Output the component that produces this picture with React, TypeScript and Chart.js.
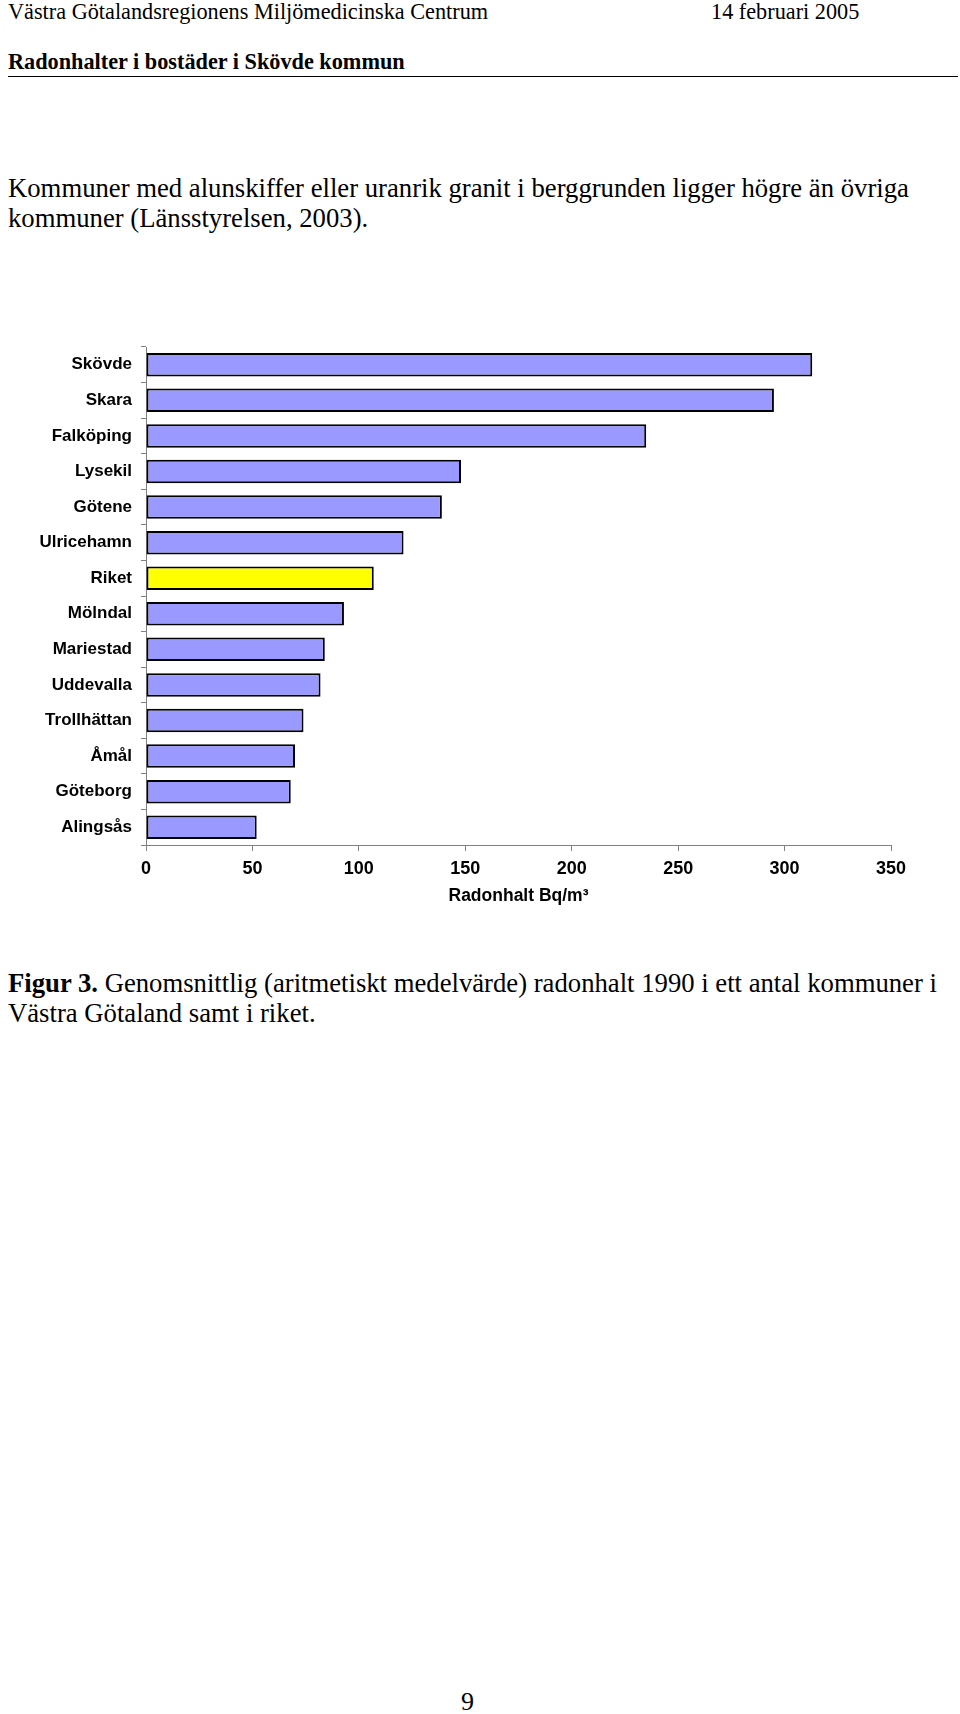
import React, { useEffect, useRef } from "react";
import { Chart, registerables } from "chart.js";

Chart.register(...registerables);

const categories = [
  "Skövde",
  "Skara",
  "Falköping",
  "Lysekil",
  "Götene",
  "Ulricehamn",
  "Riket",
  "Mölndal",
  "Mariestad",
  "Uddevalla",
  "Trollhättan",
  "Åmål",
  "Göteborg",
  "Alingsås",
];
const radonValues = [313, 295, 235, 148, 139, 121, 107, 93, 84, 82, 74, 70, 68, 52];
const xTicks = [0, 50, 100, 150, 200, 250, 300, 350];
const xTitle = "Radonhalt Bq/m³";

const headerLeft = "Västra Götalandsregionens Miljömedicinska Centrum";
const headerRight = "14 februari 2005";
const subHeader = "Radonhalter i bostäder i Skövde kommun";
const paragraph = [
  "Kommuner med alunskiffer eller uranrik granit i berggrunden ligger högre än övriga",
  "kommuner (Länsstyrelsen, 2003).",
];
const captionBold = "Figur 3.";
const captionRest = [
  " Genomsnittlig (aritmetiskt medelvärde) radonhalt 1990 i ett antal kommuner i",
  "Västra Götaland samt i riket.",
];
const pageNumber = "9";

const serif = '"Liberation Serif", "Times New Roman", serif';
const sans = '"Liberation Sans", Arial, sans-serif';

function RadonChart() {
  const ref = useRef<HTMLCanvasElement | null>(null);
  useEffect(() => {
    if (!ref.current) return;
    const chart = new Chart(ref.current, {
      type: "bar",
      data: {
        labels: categories,
        datasets: [
          {
            data: radonValues,
            backgroundColor: categories.map((c) => (c === "Riket" ? "#FFFF00" : "#9999FF")),
            borderColor: "#000000",
            borderWidth: 2,
            borderSkipped: false,
            barPercentage: 0.66,
            categoryPercentage: 1,
          },
        ],
      },
      options: {
        indexAxis: "y",
        animation: false,
        responsive: false,
        maintainAspectRatio: false,
        layout: { padding: { left: 0, right: 69, top: 27, bottom: 0 } },
        plugins: { legend: { display: false }, tooltip: { enabled: false } },
        scales: {
          x: {
            type: "linear",
            min: 0,
            max: 350,
            afterBuildTicks: (scale: any) => {
              scale.ticks = xTicks.map((v) => ({ value: v }));
            },
            afterFit: (scale: any) => {
              scale.height = 62;
            },
            grid: {
              drawOnChartArea: false,
              drawTicks: true,
              tickLength: 6,
              color: "#808080",
            },
            border: { display: true, color: "#808080", width: 1 },
            ticks: {
              color: "#000000",
              padding: 7,
              font: { family: sans, size: 18, weight: "bold" },
              maxRotation: 0,
            },
            title: {
              display: true,
              text: xTitle,
              color: "#000000",
              padding: { top: 0, bottom: 0 },
              font: { family: sans, size: 17.5, weight: "bold" },
            },
          },
          y: {
            type: "category",
            afterFit: (scale: any) => {
              scale.width = 146;
            },
            grid: {
              drawOnChartArea: false,
              drawTicks: true,
              tickLength: 5,
              offset: true,
              color: "#808080",
            },
            border: { display: true, color: "#808080", width: 1 },
            ticks: {
              color: "#000000",
              padding: 9,
              font: { family: sans, size: 17, weight: "bold" },
            },
          },
        },
      },
    });
    return () => chart.destroy();
  }, []);
  return (
    <canvas
      ref={ref}
      width={960}
      height={587}
      style={{ position: "absolute", left: 0, top: 320, width: 960, height: 587 }}
    />
  );
}

export default function App() {
  return (
    <div
      style={{
        position: "absolute",
        left: 0,
        top: 0,
        width: 960,
        height: 1714,
        background: "#ffffff",
        color: "#000000",
        overflow: "hidden",
      }}
    >
      <div style={{ position: "absolute", left: 8, top: 1, fontFamily: serif, fontSize: 22.25, lineHeight: "22px", whiteSpace: "nowrap" }}>
        {headerLeft}
      </div>
      <div style={{ position: "absolute", left: 711, top: 1, fontFamily: serif, fontSize: 22.25, lineHeight: "22px", whiteSpace: "nowrap" }}>
        {headerRight}
      </div>
      <div style={{ position: "absolute", left: 8, top: 51, fontFamily: serif, fontSize: 22.25, fontWeight: "bold", lineHeight: "22px", whiteSpace: "nowrap" }}>
        {subHeader}
      </div>
      <div style={{ position: "absolute", left: 8, top: 75.5, width: 950, height: 1.5, background: "#000000" }} />
      <div style={{ position: "absolute", left: 8, top: 173, fontFamily: serif, fontSize: 26.7, lineHeight: "30px", whiteSpace: "nowrap" }}>
        {paragraph.map((l, i) => (
          <div key={i}>{l}</div>
        ))}
      </div>
      <RadonChart />
      <div style={{ position: "absolute", left: 8, top: 969, fontFamily: serif, fontSize: 26.7, lineHeight: "29.5px", whiteSpace: "nowrap" }}>
        <div>
          <b>{captionBold}</b>
          {captionRest[0]}
        </div>
        <div>{captionRest[1]}</div>
      </div>
      <div style={{ position: "absolute", left: 461, top: 1689, fontFamily: serif, fontSize: 26, lineHeight: "26px" }}>
        {pageNumber}
      </div>
    </div>
  );
}
